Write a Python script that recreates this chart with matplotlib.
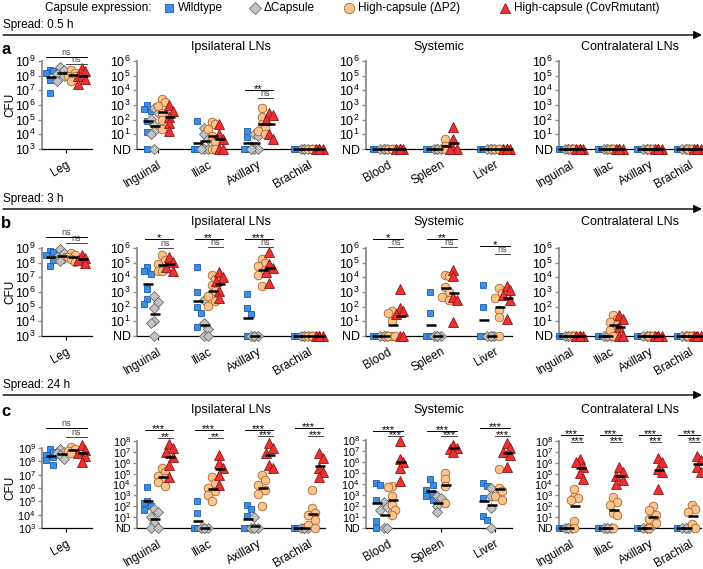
import matplotlib
matplotlib.use("Agg")
import matplotlib.pyplot as plt
from matplotlib.patches import FancyArrowPatch
from matplotlib.lines import Line2D
import numpy as np

plt.rcParams['font.family'] = ['Liberation Sans', 'DejaVu Sans']
plt.rcParams['mathtext.default'] = 'regular'

# ---- data: log10 CFU, 0 = ND ----
series = ["Wildtype", "ΔCapsule", "High-capsule (ΔP2)", "High-capsule (CovRmutant)"]
ln_names = ["Inguinal", "Iliac", "Axillary", "Brachial"]
sys_names = ["Blood", "Spleen", "Liver"]
Z = [0, 0, 0, 0, 0]

# spread 0.5 h
a_leg = [[8.42, 8.35, 8.2, 7.72, 6.8], [8.6, 8.42, 8.1, 8.0, 7.67],
         [8.42, 8.2, 8.0, 7.95, 7.67], [8.53, 8.3, 7.95, 7.77, 7.44]]
a_ipsi = [
    [[2.97, 2.7, 2.6, 1.9, 1.15, 0], [2.78, 2.44, 2.07, 1.66, 1.2, 1.0, 0],
     [3.4, 3.2, 2.9, 2.44, 1.95, 1.33], [3.0, 2.6, 2.2, 1.75, 1.25]],
    [[1.9, 0, 0, 0, 0], [1.45, 1.0, 0.65, 0, 0, 0],
     [1.85, 1.7, 1.35, 0.9, 0.5, 0, 0], [1.7, 1.0, 0.65, 0, 0]],
    [[1.25, 0.8, 0, 0, 0], [1.0, 0.9, 0, 0, 0],
     [2.78, 2.2, 1.68, 1.45, 1.22, 1.0], [2.45, 2.3, 2.0, 1.0, 0.65]],
    [Z, Z, Z, Z]]
a_sys = [[Z, Z, Z, Z],
         [Z, Z, [0.7, 0.2, 0, 0, 0], [1.5, 0.65, 0, 0, 0]],
         [Z, Z, Z, Z]]
a_contra = [[Z, Z, Z, Z], [Z, Z, Z, Z], [Z, Z, Z, Z], [Z, Z, Z, Z]]

# spread 3 h
b_leg = [[8.8, 8.7, 8.55, 8.2, 7.8], [8.9, 8.65, 8.4, 8.35, 8.1],
         [8.65, 8.5, 8.4, 8.25, 8.05], [8.55, 8.3, 8.15, 8.0]]
b_ipsi = [
    [[4.7, 4.4, 4.2, 3.2, 2.55, 2.2], [2.72, 2.3, 1.92, 1.0, 0.88, 0],
     [5.55, 5.15, 4.9, 4.6, 4.45, 4.4], [5.4, 5.05, 4.7, 4.45]],
    [[4.7, 3.0, 2.0, 1.6, 0.6], [2.45, 0.9, 0.5, 0, 0],
     [4.16, 3.9, 3.45, 3.07, 2.72, 2.38, 2.03], [4.35, 4.0, 3.75, 3.05, 2.6]],
    [[2.85, 1.9, 1.5, 0, 0], Z,
     [5.25, 4.97, 4.74, 4.51, 4.17, 3.41], [5.7, 4.9, 4.63, 4.33, 3.64]],
    [Z, Z, Z, Z]]
b_sys = [
    [Z, Z, [1.7, 1.6, 1.0, 0, 0, 0], [3.2, 1.9, 1.7, 1.5, 0, 0]],
    [[3.0, 1.6, 0, 0, 0, 0], Z, [4.17, 4.06, 3.32, 2.98, 2.68, 2.45],
     [4.51, 4.06, 2.68, 2.45, 0.96]],
    [[3.5, 2.0, 0, 0, 0], Z, [3.25, 2.91, 2.56, 1.76, 1.3, 0],
     [3.41, 3.14, 2.8, 2.45, 1.19]]]
b_contra = [[Z, Z, Z, Z],
            [Z, Z, [1.42, 1.19, 0.96, 0.73, 0.39, 0], [1.42, 1.19, 0.62, 0, 0]],
            [Z, Z, Z, Z], [Z, Z, Z, Z]]

# spread 24 h
c_leg = [[8.95, 8.7, 8.45, 8.3, 8.1, 7.75], [8.9, 8.7, 8.6, 8.45, 8.15],
         [9.1, 8.9, 8.75, 8.6], [9.25, 8.85, 8.6, 8.4, 7.95]]
c_ipsi = [
    [[3.75, 2.45, 2.3, 2.0, 1.7], [1.75, 1.45, 1.05, 0.5, 0, 0],
     [5.5, 5.19, 4.79, 4.58, 4.27, 3.88], [7.73, 7.33, 7.02, 6.56, 5.8, 4.67]],
    [[2.45, 1.4, 0, 0, 0, 0], Z,
     [4.67, 4.12, 3.66, 3.36, 3.05, 2.44], [6.72, 5.95, 5.5, 4.89, 3.97]],
    [[2.15, 1.75, 1.1, 0, 0, 0], [1.05, 0, 0, 0, 0],
     [4.89, 4.43, 3.97, 3.51, 3.15, 1.98], [7.85, 7.33, 6.93, 5.8, 5.5]],
    [Z, Z, [3.5, 1.85, 1.4, 1.2, 0.75, 0.3, 0], [6.87, 6.41, 5.5, 5.19, 4.67]]]
c_sys = [
    [[4.1, 3.95, 2.55, 0.6, 0], [2.35, 1.95, 1.65, 0, 0],
     [3.84, 3.72, 2.87, 2.11, 1.66, 1.15], [7.94, 6.25, 6.04, 5.44, 4.23]],
    [[4.44, 3.93, 3.47, 3.11, 2.87, 2.51], [2.93, 2.72, 2.02, 1.42],
     [5.04, 4.44, 3.78, 2.27], [7.55, 7.3, 7.2, 6.95]],
    [[4.08, 3.84, 2.72, 1.06, 0.69], [3.62, 2.93, 1.81, 0],
     [5.35, 3.62, 3.32, 2.93, 2.51], [7.76, 7.25, 6.94, 6.64, 5.53]]]
c_contra = [
    [Z, Z, [3.56, 2.89, 2.74, 2.58, 0.61, 0], [6.38, 6.08, 5.62, 5.02, 4.47]],
    [Z, Z, [2.89, 2.43, 2.13, 1.37, 1.22, 0], [5.62, 5.17, 4.77, 4.41, 4.04]],
    [Z, Z, [1.98, 1.67, 1.22, 0.82, 0.46, 0], [6.47, 6.08, 5.47, 5.17, 3.56]],
    [Z, Z, [2.13, 1.73, 1.43, 0.4, 0], [6.6, 6.23, 5.62, 5.17]]]

# significance: (panel, group, long label, short label, y long, y short)
a_sig = [("leg", 0, "ns", "ns", 9.27, 8.8), ("ipsi", 2, "**", "ns", 4.02, 3.48)]
b_sig = [("leg", 0, "ns", "ns", 9.75, 9.34),
         ("ipsi", 0, "*", "ns", 6.61, 6.0), ("ipsi", 1, "**", "ns", 6.61, 6.05),
         ("ipsi", 2, "***", "ns", 6.61, 6.05),
         ("sys", 0, "*", "ns", 6.6, 6.05), ("sys", 1, "**", "ns", 6.6, 6.05),
         ("sys", 2, "*", "ns", 6.14, 5.6)]
c_sig = [("leg", 0, "ns", "ns", 10.5, 9.83),
         ("ipsi", 0, "***", "**", 9.0, 8.28), ("ipsi", 1, "***", "**", 9.0, 8.28),
         ("ipsi", 2, "***", "***", 9.0, 8.46), ("ipsi", 3, "***", "***", 9.17, 8.46),
         ("sys", 0, "***", "***", 8.82, 8.36), ("sys", 1, "***", "***", 8.82, 8.36),
         ("sys", 2, "***", "***", 9.1, 8.36),
         ("contra", 0, "***", "***", 8.55, 7.9), ("contra", 1, "***", "***", 8.55, 7.9),
         ("contra", 2, "***", "***", 8.55, 7.9), ("contra", 3, "***", "***", 8.55, 7.9)]

# ---- styling ----
W, H = 703, 569
markers = ["s", "D", "o", "^"]
msizes = [5.0, 4.6, 6.2, 6.6]
faces = ["#3d8fe5", "#c3c3c3", "#fbc38e", "#eb3131"]
edges = ["#1d5ca8", "#6a6a6a", "#a8682c", "#8c1717"]
offs = [-0.22, -0.075, 0.075, 0.22]

fig = plt.figure(figsize=(W / 100, H / 100), dpi=100)


def fy(y):
    return 1 - y / H


def px_axes(x0, x1, y0, y1):
    return fig.add_axes([x0 / W, 1 - y1 / H, (x1 - x0) / W, (y1 - y0) / H])


def swarm(ax, x0, vals, xl, yl):
    # spread overlapping points a little sideways
    pos = ax.get_position()
    sx = pos.width * W / (xl[1] - xl[0])
    sy = pos.height * H / (yl[1] - yl[0])
    step = 3.5 / sx
    placed = []
    xs = []
    for v in vals:
        best, bestd = x0, -1
        for dx in (0, step, -step):
            d = min([np.hypot((x0 + dx - px) * sx, (v - py) * sy) for px, py in placed] + [99])
            if d >= 6.5:
                best, bestd = x0 + dx, d
                break
            if d > bestd:
                best, bestd = x0 + dx, d
        placed.append((best, v))
        xs.append(best)
    return xs


def panel(ax, groups, names, xl, yl, leg=False, fs=9):
    ax.set_xlim(xl)
    ax.set_ylim(yl)
    for gi, grp in enumerate(groups):
        for si, vals in enumerate(grp):
            xs = swarm(ax, gi + offs[si], vals, xl, yl)
            ax.plot(xs, vals, ls="none", marker=markers[si], ms=msizes[si],
                    mfc=faces[si], mec=edges[si], mew=0.6, clip_on=False, zorder=3 + si)
            ax.plot(gi + offs[si] + 0.02, np.mean(vals), marker="_", ms=6.5, mew=1.8,
                    color="k", clip_on=False, zorder=10)
    for s in ["top", "right"]:
        ax.spines[s].set_visible(False)
    ax.spines["left"].set_color("#8e8e8e")
    ax.spines["left"].set_linewidth(1.3)
    ax.spines["bottom"].set_color("k")
    ax.spines["bottom"].set_linewidth(0.9)
    lo, hi = int(yl[0]), int(yl[1])
    ticks = list(range(lo, hi + 1))
    if leg:
        labels = ["10$^{%d}$" % t for t in ticks]
    else:
        labels = ["ND"] + ["10$^{%d}$" % t for t in ticks[1:]]
    ax.set_yticks(ticks)
    ax.set_yticklabels(labels, fontsize=fs)
    ax.tick_params(axis="y", length=3, width=1, color="#8e8e8e", pad=1.5)
    ax.set_xticks(range(len(names)))
    ax.set_xticklabels(names, rotation=30, ha="right", rotation_mode="anchor", fontsize=8.5)
    ax.tick_params(axis="x", length=3, width=0.8, pad=4)


def sig(ax, g, lab1, lab2, y1, y2):
    xl, xr = g + offs[0] - 0.05, g + offs[3] + 0.07
    xs = g + 0.0
    for x_a, lab, y, col in [(xl, lab1, y1, "k"), (xs, lab2, y2, "#444444")]:
        ax.plot([x_a, xr], [y, y], color=col, lw=0.7, clip_on=False, zorder=11)
        if "*" in lab:
            ax.annotate(lab, ((x_a + xr) / 2, y), xytext=(0, -3.0), textcoords="offset points",
                        ha="center", va="bottom", fontsize=8, annotation_clip=False)
        else:
            ax.annotate(lab, ((x_a + xr) / 2, y), xytext=(0, 0.2), textcoords="offset points",
                        ha="center", va="bottom", fontsize=6.5, color="#444444",
                        annotation_clip=False)


# ---- legend and spread arrows ----
fig.text(45 / W, fy(8), "Capsule expression:", va="center", fontsize=8.5)
for xm, si in [(169, 0), (255, 1), (349, 2), (505, 3)]:
    fig.add_artist(Line2D([xm / W], [fy(8)], marker=markers[si], ms=msizes[si] + 1.3,
                          mfc=faces[si], mec=edges[si], mew=0.6, ls="none",
                          transform=fig.transFigure))
    fig.text((xm + 9) / W, fy(8), series[si], va="center", fontsize=8.5)

rows = [
    ("a", "Spread: 0.5 h", 25, 35, 47, 61, 149, 149, 61, a_leg, a_ipsi, a_sys, a_contra, a_sig, 6, 9),
    ("b", "Spread: 3 h", 199, 209, 222, 248, 336, 336, 248, b_leg, b_ipsi, b_sys, b_contra, b_sig, 6, 9),
    ("c", "Spread: 24 h", 385, 395, 410, 448, 528, 528, 441, c_leg, c_ipsi, c_sys, c_contra, c_sig, 8, 7.8),
]

for (letter, spread, ys, ya, yt, leg_top, leg_bot, bot, top,
     leg_d, ipsi_d, sys_d, contra_d, sig_d, ymax, fs) in rows:
    fig.text(3 / W, fy(ys), spread, va="center", fontsize=8.5)
    fig.add_artist(FancyArrowPatch((3 / W, fy(ya)), (702 / W, fy(ya)), transform=fig.transFigure,
                                   arrowstyle="-|>", mutation_scale=12, lw=1.0, color="k",
                                   shrinkA=0, shrinkB=0))
    fig.text(1 / W, fy(yt + 2), letter, va="center", fontsize=12, fontweight="bold")

    ax_leg = px_axes(42, 92, leg_top, leg_bot)
    panel(ax_leg, [leg_d], ["Leg"], (-0.33, 0.36), (3, 9), leg=True, fs=fs)
    fig.text(10 / W, fy((leg_top + leg_bot) / 2), "CFU", rotation=90,
             ha="center", va="center", fontsize=8.5)

    sys_top = top - 1 if letter == "c" else top
    ax_i = px_axes(137, 325, top, bot)
    panel(ax_i, ipsi_d, ln_names, (-0.42, 3.34), (0, ymax), fs=fs)
    ax_s = px_axes(366, 512, sys_top, bot)
    panel(ax_s, sys_d, sys_names, (-0.41, 2.32), (0, ymax), fs=fs)
    ax_c = px_axes(559, 701, top, bot)
    panel(ax_c, contra_d, ln_names, (-0.31, 3.31), (0, ymax), fs=fs)

    for ax, t in [(ax_i, "Ipsilateral LNs"), (ax_s, "Systemic"), (ax_c, "Contralateral LNs")]:
        pos = ax.get_position()
        fig.text(pos.x0 + pos.width / 2, fy(yt), t, ha="center", va="center", fontsize=9)

    axes = {"leg": ax_leg, "ipsi": ax_i, "sys": ax_s, "contra": ax_c}
    for p, g, l1, l2, y1, y2 in sig_d:
        sig(axes[p], g, l1, l2, y1, y2)

fig.savefig("out.png", dpi=100)
